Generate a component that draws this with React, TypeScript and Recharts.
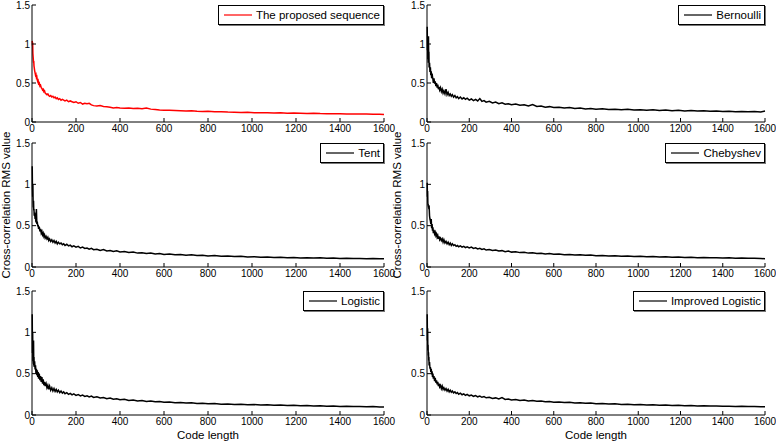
import React from 'react';
import { LineChart, Line, XAxis, YAxis, Legend } from 'recharts';

// code lengths the curves were sampled at
const CODE_LENGTH = [
  1, 2, 3, 4, 5, 6, 7, 8, 9, 10,
  12, 14, 16, 18, 20, 22, 24, 26, 28, 30,
  33, 36, 39, 42, 45, 48, 51, 54, 57, 60,
  64, 68, 72, 76, 80, 85, 90, 95, 100, 105,
  110, 115, 120, 126, 132, 138, 144, 150, 158, 166,
  174, 182, 190, 200, 210, 220, 230, 240, 250, 260,
  270, 280, 295, 310, 325, 340, 355, 370, 385, 400,
  420, 440, 460, 480, 500, 520, 540, 560, 580, 600,
  625, 650, 675, 700, 725, 750, 775, 800, 830, 860,
  890, 920, 950, 980, 1010, 1040, 1070, 1100, 1130, 1160,
  1190, 1220, 1250, 1280, 1310, 1340, 1370, 1400, 1430, 1460,
  1490, 1520, 1550, 1580, 1600,
];

const PROPOSED = [
  1.04, 0.98, 1.02, 0.88, 0.84, 0.8, 0.76, 0.78, 0.72, 0.7,
  0.66, 0.63, 0.6, 0.61, 0.57, 0.58, 0.54, 0.52, 0.53, 0.49,
  0.5, 0.46, 0.47, 0.44, 0.43, 0.41, 0.42, 0.39, 0.4, 0.37,
  0.36, 0.35, 0.36, 0.34, 0.33, 0.34, 0.32, 0.33, 0.31, 0.32,
  0.3, 0.31, 0.29, 0.3, 0.28, 0.29, 0.28, 0.27, 0.28, 0.26,
  0.27, 0.26, 0.25, 0.26, 0.24, 0.25, 0.23, 0.24, 0.235, 0.24,
  0.22, 0.21, 0.205, 0.21, 0.2, 0.195, 0.19, 0.18, 0.185, 0.18,
  0.175, 0.18, 0.172, 0.175, 0.17, 0.178, 0.165, 0.16, 0.155, 0.152,
  0.15, 0.148, 0.145, 0.142, 0.145, 0.138, 0.135, 0.137, 0.13, 0.132,
  0.127, 0.125, 0.122, 0.124, 0.12, 0.118, 0.12, 0.115, 0.117, 0.113,
  0.115, 0.112, 0.11, 0.112, 0.108, 0.107, 0.105, 0.106, 0.103, 0.104,
  0.101, 0.102, 0.099, 0.1, 0.097,
];

const BERNOULLI = [
  1.22, 0.92, 1.08, 0.8, 0.88, 0.76, 1.1, 0.82, 0.9, 0.7,
  0.76, 0.64, 0.7, 0.6, 0.65, 0.56, 0.62, 0.58, 0.55, 0.5,
  0.56, 0.49, 0.52, 0.46, 0.5, 0.44, 0.48, 0.42, 0.45, 0.41,
  0.44, 0.39, 0.42, 0.37, 0.4, 0.36, 0.42, 0.35, 0.38, 0.34,
  0.36, 0.33, 0.35, 0.32, 0.34, 0.31, 0.325, 0.3, 0.32, 0.295,
  0.31, 0.29, 0.305, 0.28, 0.295, 0.275, 0.29, 0.27, 0.3, 0.265,
  0.275, 0.255, 0.265, 0.245, 0.255, 0.235, 0.245, 0.228, 0.235, 0.222,
  0.23, 0.215, 0.222, 0.205, 0.225, 0.2, 0.205, 0.19, 0.197, 0.185,
  0.19, 0.18, 0.186, 0.174, 0.178, 0.168, 0.172, 0.165, 0.17, 0.16,
  0.164, 0.157, 0.162, 0.153, 0.158, 0.15, 0.156, 0.148, 0.153, 0.145,
  0.15, 0.142, 0.147, 0.14, 0.144, 0.137, 0.141, 0.134, 0.138, 0.132,
  0.136, 0.13, 0.134, 0.128, 0.14,
];

const TENT = [
  1.22, 0.95, 0.85, 1.0, 0.78, 0.72, 0.8, 0.68, 0.7, 0.62,
  0.66, 0.58, 0.6, 0.54, 0.7, 0.52, 0.55, 0.49, 0.51, 0.46,
  0.49, 0.43, 0.46, 0.41, 0.43, 0.39, 0.41, 0.37, 0.39, 0.35,
  0.37, 0.34, 0.36, 0.32, 0.34, 0.31, 0.33, 0.3, 0.32, 0.29,
  0.31, 0.28, 0.3, 0.28, 0.29, 0.27, 0.28, 0.26, 0.275, 0.255,
  0.265, 0.245, 0.255, 0.24, 0.25, 0.23, 0.24, 0.225, 0.23, 0.215,
  0.225, 0.21, 0.215, 0.2, 0.21, 0.195, 0.2, 0.188, 0.195, 0.183,
  0.188, 0.175, 0.18, 0.168, 0.173, 0.162, 0.168, 0.158, 0.162, 0.152,
  0.157, 0.148, 0.152, 0.143, 0.147, 0.138, 0.142, 0.134, 0.138, 0.13,
  0.133, 0.126, 0.129, 0.122, 0.125, 0.119, 0.122, 0.116, 0.119, 0.113,
  0.116, 0.11, 0.113, 0.108, 0.111, 0.106, 0.108, 0.104, 0.106, 0.102,
  0.104, 0.1, 0.102, 0.099, 0.1,
];

const CHEBYSHEV = [
  1.02, 0.85, 0.92, 0.78, 0.74, 0.76, 0.72, 0.75, 0.7, 0.74,
  0.62, 0.58, 0.56, 0.52, 0.58, 0.47, 0.52, 0.44, 0.48, 0.41,
  0.45, 0.4, 0.42, 0.38, 0.4, 0.36, 0.38, 0.34, 0.37, 0.33,
  0.35, 0.32, 0.34, 0.3, 0.33, 0.29, 0.31, 0.28, 0.3, 0.27,
  0.29, 0.26, 0.28, 0.26, 0.27, 0.25, 0.26, 0.245, 0.255, 0.24,
  0.25, 0.235, 0.245, 0.23, 0.24, 0.225, 0.232, 0.218, 0.225, 0.212,
  0.22, 0.205, 0.212, 0.2, 0.206, 0.193, 0.198, 0.186, 0.192, 0.18,
  0.185, 0.174, 0.178, 0.168, 0.172, 0.163, 0.167, 0.158, 0.162, 0.153,
  0.157, 0.149, 0.152, 0.145, 0.148, 0.141, 0.144, 0.137, 0.14, 0.133,
  0.136, 0.13, 0.132, 0.127, 0.129, 0.124, 0.126, 0.121, 0.123, 0.118,
  0.12, 0.115, 0.117, 0.113, 0.115, 0.111, 0.113, 0.109, 0.111, 0.107,
  0.109, 0.105, 0.107, 0.103, 0.1,
];

const LOGISTIC = [
  1.22, 0.75, 1.0, 0.65, 0.85, 0.62, 0.9, 0.6, 0.7, 0.58,
  0.65, 0.55, 0.6, 0.5, 0.56, 0.48, 0.54, 0.46, 0.52, 0.44,
  0.5, 0.42, 0.47, 0.4, 0.46, 0.38, 0.43, 0.36, 0.4, 0.35,
  0.38, 0.33, 0.36, 0.31, 0.35, 0.3, 0.33, 0.29, 0.32, 0.285,
  0.31, 0.28, 0.3, 0.27, 0.29, 0.265, 0.28, 0.258, 0.27, 0.25,
  0.262, 0.243, 0.255, 0.237, 0.248, 0.23, 0.24, 0.225, 0.233, 0.218,
  0.228, 0.212, 0.22, 0.205, 0.212, 0.198, 0.205, 0.19, 0.196, 0.184,
  0.19, 0.176, 0.182, 0.17, 0.175, 0.164, 0.169, 0.159, 0.163, 0.154,
  0.158, 0.149, 0.152, 0.144, 0.147, 0.14, 0.143, 0.135, 0.138, 0.131,
  0.134, 0.127, 0.13, 0.123, 0.126, 0.12, 0.123, 0.117, 0.12, 0.114,
  0.117, 0.111, 0.114, 0.109, 0.111, 0.106, 0.109, 0.104, 0.106, 0.102,
  0.104, 0.1, 0.102, 0.098, 0.097,
];

const IMPROVED_LOGISTIC = [
  1.22, 0.9, 1.05, 0.78, 0.85, 0.72, 0.76, 0.66, 0.7, 0.6,
  0.64, 0.56, 0.58, 0.52, 0.56, 0.49, 0.53, 0.46, 0.5, 0.44,
  0.47, 0.41, 0.45, 0.39, 0.42, 0.37, 0.4, 0.35, 0.38, 0.34,
  0.36, 0.32, 0.35, 0.31, 0.33, 0.3, 0.32, 0.29, 0.31, 0.28,
  0.3, 0.275, 0.29, 0.268, 0.28, 0.26, 0.272, 0.252, 0.264, 0.245,
  0.256, 0.238, 0.25, 0.232, 0.242, 0.226, 0.235, 0.22, 0.228, 0.214,
  0.222, 0.208, 0.215, 0.2, 0.207, 0.194, 0.21, 0.188, 0.193, 0.182,
  0.188, 0.176, 0.18, 0.17, 0.174, 0.165, 0.168, 0.16, 0.163, 0.155,
  0.158, 0.15, 0.153, 0.146, 0.149, 0.141, 0.144, 0.137, 0.14, 0.132,
  0.135, 0.128, 0.131, 0.124, 0.127, 0.121, 0.124, 0.118, 0.12, 0.115,
  0.117, 0.112, 0.114, 0.11, 0.112, 0.108, 0.11, 0.106, 0.107, 0.104,
  0.105, 0.102, 0.103, 0.1, 0.1,
];

const X_TICKS = [0, 200, 400, 600, 800, 1000, 1200, 1400, 1600];
const Y_TICKS = [0, 0.5, 1, 1.5];

const FONT = '"Liberation Sans", Arial, Helvetica, sans-serif';
const TICK_STYLE = { fontSize: 10, fill: '#000', fontFamily: FONT };

interface PanelProps {
  name: string;
  values: number[];
  color: string;
  left: number;
  top: number;
  width: number;
  height: number;
  axisWidth: number;
  marginRight: number;
  marginTop: number;
  xAxisHeight: number;
  titleX: number;
  yLabel?: boolean;
  xLabel?: boolean;
}

function YTitle({ cx, cy }: { cx: number; cy: number }) {
  return (
    <text
      transform={`translate(${cx},${cy}) rotate(-90)`}
      textAnchor="middle"
      dominantBaseline="central"
      fontFamily={FONT}
      fontSize={11.5}
      fill="#000"
    >
      Cross-correlation RMS value
    </text>
  );
}

function XTitle({ cx, cy }: { cx: number; cy: number }) {
  return (
    <text x={cx} y={cy} textAnchor="middle" dominantBaseline="central" fontFamily={FONT} fontSize={11.5} fill="#000">
      Code length
    </text>
  );
}

function LegendBox({ name, color }: { name: string; color: string }) {
  return (
    <div
      style={{
        display: 'flex',
        alignItems: 'center',
        height: 18,
        padding: '0 3px 0 5px',
        background: '#fff',
        border: '1px solid #000',
        boxShadow: '1px 1px 0 #777',
        fontFamily: FONT,
        fontSize: 11.5,
        color: '#000',
        whiteSpace: 'nowrap',
      }}
    >
      <svg width={28} height={4} style={{ marginRight: 4 }}>
        <line x1={0} y1={2} x2={28} y2={2} stroke={color} strokeWidth={1.2} />
      </svg>
      <span>{name}</span>
    </div>
  );
}

function Panel(p: PanelProps) {
  const data = CODE_LENGTH.map((n, i) => ({ n, value: p.values[i] }));
  const plotLeft = p.axisWidth;
  const plotRight = p.width - p.marginRight;
  const plotBottom = p.height - p.xAxisHeight;
  return (
    <div style={{ position: 'absolute', left: p.left, top: p.top }}>
      <LineChart
        width={p.width}
        height={p.height}
        data={data}
        margin={{ top: p.marginTop, right: p.marginRight, bottom: 0, left: 0 }}
      >
        <XAxis
          dataKey="n"
          type="number"
          domain={[0, 1600]}
          ticks={X_TICKS}
          interval={0}
          height={p.xAxisHeight}
          stroke="#000"
          tickSize={-4}
          tickMargin={7}
          tick={TICK_STYLE}
          label={p.xLabel ? <XTitle cx={(plotLeft + plotRight) / 2} cy={plotBottom + 20} /> : undefined}
        />
        <XAxis
          xAxisId="top"
          orientation="top"
          type="number"
          domain={[0, 1600]}
          ticks={X_TICKS}
          interval={0}
          height={0}
          stroke="#000"
          tickSize={-4}
          tick={false}
        />
        <YAxis
          type="number"
          domain={[0, 1.5]}
          ticks={Y_TICKS}
          interval={0}
          width={p.axisWidth}
          stroke="#000"
          tickSize={-4}
          tickMargin={6}
          tick={TICK_STYLE}
          label={p.yLabel ? <YTitle cx={p.titleX} cy={(p.marginTop + plotBottom) / 2} /> : undefined}
        />
        <YAxis
          yAxisId="right"
          orientation="right"
          type="number"
          domain={[0, 1.5]}
          ticks={Y_TICKS}
          interval={0}
          width={0}
          stroke="#000"
          tickSize={-4}
          tick={false}
        />
        <Legend
          layout="vertical"
          align="center"
          verticalAlign="middle"
          wrapperStyle={{ top: p.marginTop, right: p.marginRight, left: 'auto', bottom: 'auto', width: 'auto', height: 'auto' }}
          content={() => <LegendBox name={p.name} color={p.color} />}
        />
        <Line
          dataKey="value"
          name={p.name}
          stroke={p.color}
          strokeWidth={1.5}
          dot={false}
          isAnimationActive={false}
        />
      </LineChart>
    </div>
  );
}

export default function App() {
  const leftCol = { left: 0, width: 400, axisWidth: 32, marginRight: 16, titleX: 6 };
  const rightCol = { left: 386, width: 390, axisWidth: 41, marginRight: 11, titleX: 11 };
  return (
    <div style={{ position: 'absolute', left: 0, top: 0, width: 776, height: 443, background: '#fff' }}>
      <style>{'.recharts-surface { overflow: visible; }'}</style>
      <Panel name="The proposed sequence" values={PROPOSED} color="#ff0000" top={0} height={142} marginTop={5} xAxisHeight={20} {...leftCol} />
      <Panel name="Bernoulli" values={BERNOULLI} color="#000" top={0} height={142} marginTop={5} xAxisHeight={20} {...rightCol} />
      <Panel name="Tent" values={TENT} color="#000" top={140} height={147} marginTop={3} xAxisHeight={20} yLabel {...leftCol} />
      <Panel name="Chebyshev" values={CHEBYSHEV} color="#000" top={140} height={147} marginTop={3} xAxisHeight={20} yLabel {...rightCol} />
      <Panel name="Logistic" values={LOGISTIC} color="#000" top={288} height={155} marginTop={3} xAxisHeight={28} xLabel {...leftCol} />
      <Panel name="Improved Logistic" values={IMPROVED_LOGISTIC} color="#000" top={288} height={155} marginTop={3} xAxisHeight={28} xLabel {...rightCol} />
    </div>
  );
}
